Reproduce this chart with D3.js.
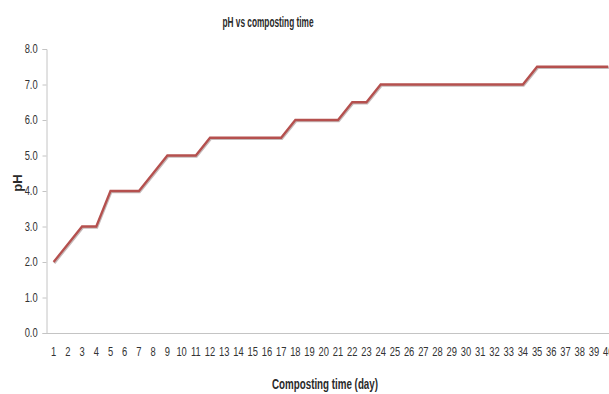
<!DOCTYPE html>
<html>
<head>
<meta charset="utf-8">
<script src="https://cdn.jsdelivr.net/npm/d3@7"></script>
<style>
  html, body { margin: 0; padding: 0; background: #fff; overflow: hidden; }
  svg { display: block; }
  text { font-family: "Liberation Sans", Arial, sans-serif; fill: #2a2a2a; }
  .narrow { transform-box: fill-box; transform-origin: center; transform: scaleX(0.78); }
</style>
</head>
<body>
<svg id="chart" width="609" height="394"></svg>
<script>
// Composting days and measured pH
const days = d3.range(1, 41);
const phValues = [
  2.0, 2.5, 3.0, 3.0, 4.0, 4.0, 4.0, 4.5, 5.0, 5.0,
  5.0, 5.5, 5.5, 5.5, 5.5, 5.5, 5.5, 6.0, 6.0, 6.0,
  6.0, 6.5, 6.5, 7.0, 7.0, 7.0, 7.0, 7.0, 7.0, 7.0,
  7.0, 7.0, 7.0, 7.0, 7.5, 7.5, 7.5, 7.5, 7.5, 7.5
];
const yTicks = [0, 1, 2, 3, 4, 5, 6, 7, 8];

const svg = d3.select("#chart");
const W = 609, H = 394;
const margin = { left: 46.5, right: -6.3, top: 49, bottom: 61 };

const x = d3.scaleBand().domain(days).range([margin.left, W - margin.right]);
const y = d3.scaleLinear().domain([0, 8]).range([H - margin.bottom, margin.top]);

// Y axis
const yAxis = svg.append("g")
  .attr("transform", `translate(${margin.left},0)`)
  .call(d3.axisLeft(y).tickValues(yTicks).tickFormat(d3.format(".1f")).tickSize(4).tickPadding(3));
yAxis.select(".domain").attr("stroke", "#c4c4c4");
yAxis.selectAll(".tick line").attr("stroke", "#c4c4c4");
yAxis.selectAll(".tick text").attr("font-size", 12).attr("class", "narrow").style("fill", "#333");

// X axis
const xAxis = svg.append("g")
  .attr("transform", `translate(0,${H - margin.bottom})`)
  .call(d3.axisBottom(x).tickSize(0).tickPadding(14));
xAxis.select(".domain").attr("stroke", "#c4c4c4");
xAxis.selectAll(".tick text").attr("font-size", 12).attr("class", "narrow").style("fill", "#333");

const line = d3.line()
  .x((d, i) => x(days[i]) + x.bandwidth() / 2)
  .y(d => y(d));

// soft shadow beneath the series
svg.append("path")
  .datum(phValues)
  .attr("fill", "none")
  .attr("stroke", "#6e5050")
  .attr("stroke-opacity", 0.4)
  .attr("stroke-width", 2.5)
  .attr("transform", "translate(0.7,1.1)")
  .attr("d", line);

svg.append("path")
  .datum(phValues)
  .attr("fill", "none")
  .attr("stroke", "#b5504e")
  .attr("stroke-width", 2.3)
  .attr("d", line);

// Titles
svg.append("text")
  .attr("x", 268).attr("y", 27)
  .attr("text-anchor", "middle")
  .attr("font-size", 14).attr("font-weight", "bold")
  .attr("textLength", 91).attr("lengthAdjust", "spacingAndGlyphs")
  .text("pH vs composting time");

svg.append("text")
  .attr("x", 325).attr("y", 389)
  .attr("text-anchor", "middle")
  .attr("font-size", 14.5).attr("font-weight", "bold")
  .attr("textLength", 106).attr("lengthAdjust", "spacingAndGlyphs")
  .text("Composting time (day)");

svg.append("text")
  .attr("transform", "translate(21.5,183) rotate(-90)")
  .attr("text-anchor", "middle")
  .attr("font-size", 13).attr("font-weight", "bold")
  .text("pH");
</script>
</body>
</html>
